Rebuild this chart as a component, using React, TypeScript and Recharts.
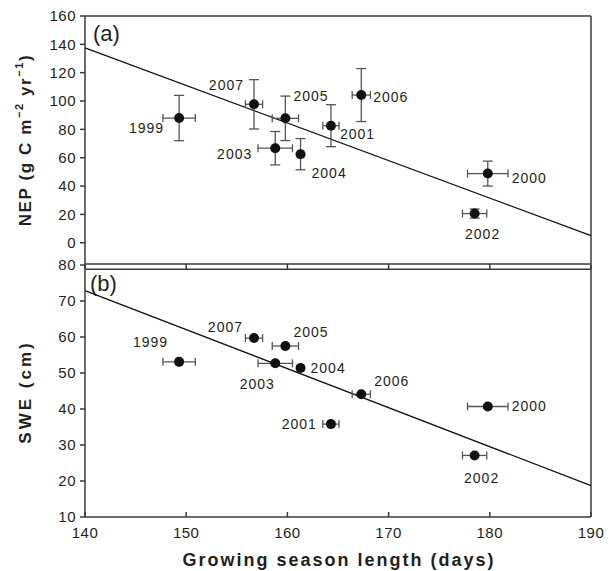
import { ErrorBar, ReferenceLine, Scatter, ScatterChart, XAxis, YAxis } from "recharts";

const FONT = "'Liberation Sans', Arial, sans-serif";
const INK = "#231f20";
const AXIS = "#3a3a3a";
const BAR = "#555555";

// Growing season per year, shared by both panels.
const years = ["1999", "2000", "2001", "2002", "2003", "2004", "2005", "2006", "2007"];
const gsl = [149.3, 179.8, 164.3, 178.5, 158.8, 161.3, 159.8, 167.3, 156.7];
const gslErr = [1.6, 2.0, 0.8, 1.2, 1.7, 0.3, 1.3, 0.9, 0.85];

// (a) NEP
const nep = [88, 48.8, 82.6, 20.6, 66.7, 62.5, 87.8, 104.2, 97.7];
const nepErr = [16, 8.8, 14.8, 3.2, 11.8, 11, 15.7, 18.7, 17.4];
const nepFit = [137.5, 5];

// (b) SWE
const swe = [53.1, 40.7, 35.8, 27.1, 52.7, 51.4, 57.5, 44.1, 59.7];
const sweFit = [72.9, 18.7];

const fitX = [140, 190];
const xTicks = [140, 150, 160, 170, 180, 190];
const nepTicks = [0, 20, 40, 60, 80, 100, 120, 140, 160];
const sweTicks = [10, 20, 30, 40, 50, 60, 70, 80];

type Anchor = "start" | "middle" | "end";
// where each year label sits around its point: [dx, dy, anchor]
const placeA: Record<string, [number, number, Anchor]> = {
  "1999": [-15, 10, "end"],
  "2000": [24, 4, "start"],
  "2001": [9, 8, "start"],
  "2002": [8, 20, "middle"],
  "2003": [-23, 6, "end"],
  "2004": [11, 19, "start"],
  "2005": [8, -22, "start"],
  "2006": [12, 2, "start"],
  "2007": [-10, -19, "end"],
};
const placeB: Record<string, [number, number, Anchor]> = {
  "1999": [-11, -20, "end"],
  "2000": [24, 0, "start"],
  "2001": [-14, 0, "end"],
  "2002": [7, 23, "middle"],
  "2003": [-18, 21, "middle"],
  "2004": [10, 0, "start"],
  "2005": [8, -14, "start"],
  "2006": [13, -13, "start"],
  "2007": [-11, -11, "end"],
};

const dataA = years.map((year, i) => ({ year, x: gsl[i], y: nep[i], ex: gslErr[i], ey: nepErr[i] }));
const dataB = years.map((year, i) => ({ year, x: gsl[i], y: swe[i], ex: gslErr[i] }));

const tickStyle = { fill: INK, fontSize: 15, fontFamily: FONT, letterSpacing: 0.5 };

function makeDot(place: Record<string, [number, number, Anchor]>) {
  return function Dot(props: any) {
    const { cx, cy, payload } = props;
    const [dx, dy, anchor] = place[payload.year];
    return (
      <g>
        <circle cx={cx} cy={cy} r={5} fill="#111" />
        <text
          x={cx + dx}
          y={cy + dy}
          textAnchor={anchor}
          dominantBaseline="central"
          fontSize={14}
          fontFamily={FONT}
          letterSpacing={1}
          fill={INK}
        >
          {payload.year}
        </text>
      </g>
    );
  };
}

const DotA = makeDot(placeA);
const DotB = makeDot(placeB);

export default function App() {
  return (
    <div style={{ position: "absolute", left: 0, top: 0, width: 613, height: 571, background: "#fff" }}>
      <div style={{ position: "absolute", left: 0, top: 0 }}>
        <ScatterChart width={613} height={269} margin={{ top: 16, right: 22, bottom: 0, left: 0 }}>
          <XAxis
            type="number"
            dataKey="x"
            domain={[140, 190]}
            ticks={xTicks}
            height={5}
            tickSize={5}
            tickFormatter={() => ""}
            stroke={AXIS}
            strokeWidth={1.5}
          />
          <YAxis
            type="number"
            dataKey="y"
            domain={[-15, 160]}
            ticks={nepTicks}
            width={85}
            tickSize={5}
            tickMargin={4}
            tick={tickStyle}
            stroke={AXIS}
            strokeWidth={1.5}
          />
          <ReferenceLine y={160} stroke={AXIS} strokeWidth={1.5} />
          <ReferenceLine x={190} stroke={AXIS} strokeWidth={1.5} />
          <ReferenceLine
            segment={[{ x: fitX[0], y: nepFit[0] }, { x: fitX[1], y: nepFit[1] }]}
            stroke="#111"
            strokeWidth={1.3}
          />
          <Scatter data={dataA} shape={DotA} isAnimationActive={false}>
            <ErrorBar dataKey="ex" direction="x" width={4} stroke={BAR} strokeWidth={1.3} />
            <ErrorBar dataKey="ey" direction="y" width={5} stroke={BAR} strokeWidth={1.3} />
          </Scatter>
          <text x={93} y={33} dominantBaseline="central" fontSize={22} fontFamily={FONT} fill={INK}>
            (a)
          </text>
          <text
            transform="translate(25,140) rotate(-90)"
            textAnchor="middle"
            dominantBaseline="central"
            fontSize={17}
            fontWeight="bold"
            fontFamily={FONT}
            letterSpacing={1.6}
            fill={INK}
          >
            NEP (g C m
            <tspan dy={-6} fontSize={11}>−2</tspan>
            <tspan dy={6}> yr</tspan>
            <tspan dy={-6} fontSize={11}>−1</tspan>
            <tspan dy={6}>)</tspan>
          </text>
        </ScatterChart>
      </div>
      <div style={{ position: "absolute", left: 0, top: 0 }}>
        <ScatterChart width={613} height={571} margin={{ top: 265, right: 22, bottom: 0, left: 0 }}>
          <XAxis
            type="number"
            dataKey="x"
            domain={[140, 190]}
            ticks={xTicks}
            height={54}
            tickSize={-5}
            tickMargin={15}
            tick={tickStyle}
            stroke={AXIS}
            strokeWidth={1.5}
          />
          <YAxis
            type="number"
            dataKey="y"
            domain={[10, 80]}
            ticks={sweTicks}
            width={85}
            tickSize={5}
            tickMargin={4}
            tick={tickStyle}
            stroke={AXIS}
            strokeWidth={1.5}
          />
          <ReferenceLine y={78.85} stroke={AXIS} strokeWidth={1.5} />
          <ReferenceLine x={190} stroke={AXIS} strokeWidth={1.5} />
          <ReferenceLine
            segment={[{ x: fitX[0], y: sweFit[0] }, { x: fitX[1], y: sweFit[1] }]}
            stroke="#111"
            strokeWidth={1.3}
          />
          <Scatter data={dataB} shape={DotB} isAnimationActive={false}>
            <ErrorBar dataKey="ex" direction="x" width={4} stroke={BAR} strokeWidth={1.3} />
          </Scatter>
          <text x={90} y={283} dominantBaseline="central" fontSize={22} fontFamily={FONT} fill={INK}>
            (b)
          </text>
          <text
            transform="translate(25,392) rotate(-90)"
            textAnchor="middle"
            dominantBaseline="central"
            fontSize={17}
            fontWeight="bold"
            fontFamily={FONT}
            letterSpacing={3}
            fill={INK}
          >
            SWE (cm)
          </text>
          <text
            x={339}
            y={560}
            textAnchor="middle"
            dominantBaseline="central"
            fontSize={18}
            fontWeight="bold"
            fontFamily={FONT}
            letterSpacing={2}
            fill={INK}
          >
            Growing season length (days)
          </text>
        </ScatterChart>
      </div>
    </div>
  );
}
